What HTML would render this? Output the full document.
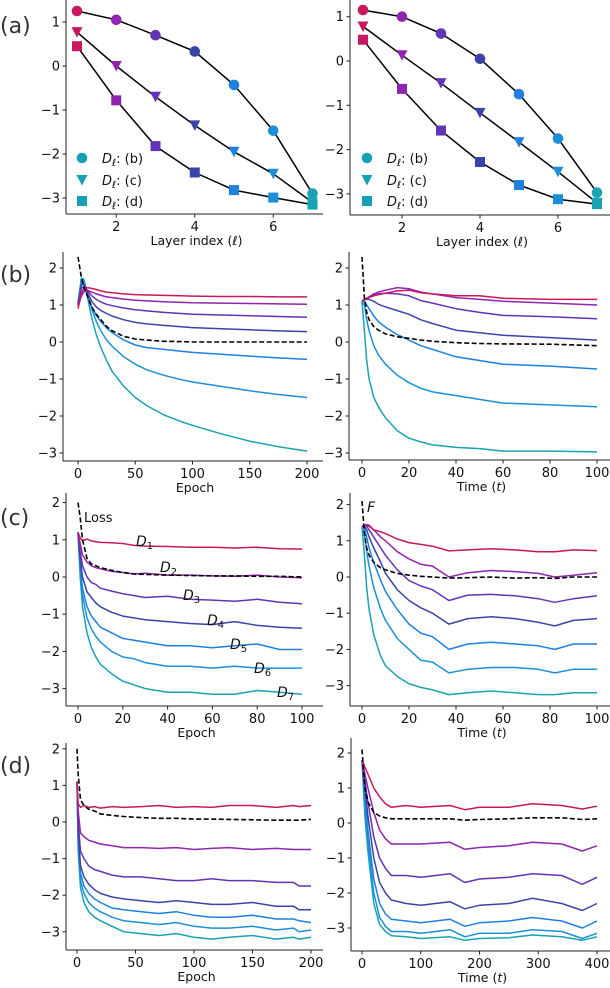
<!DOCTYPE html>
<html><head><meta charset="utf-8">
<style>
html,body{margin:0;padding:0;background:#fff;}
svg{display:block;font-family:"DejaVu Sans","Liberation Sans",sans-serif;}
</style></head>
<body>
<svg id="fig" width="610" height="988" viewBox="0 0 610 988" xmlns="http://www.w3.org/2000/svg"></svg>
<script>
// ---------- data ----------
const layerIdx = [1,2,3,4,5,6,7];
const aLeftB = [1.25,1.05,0.70,0.33,-0.43,-1.47,-2.90];
const aLeftC = [0.77,0.00,-0.70,-1.35,-1.95,-2.45,-3.10];
const aLeftD = [0.45,-0.78,-1.82,-2.42,-2.82,-2.99,-3.15];
const aRightB = [1.15,1.00,0.62,0.05,-0.75,-1.75,-2.97];
const aRightC = [0.78,0.13,-0.50,-1.17,-1.83,-2.50,-3.20];
const aRightD = [0.48,-0.63,-1.57,-2.28,-2.80,-3.12,-3.23];

const bLeftX = [0,3,5,8,12,16,20,25,30,40,50,60,75,90,100,125,150,175,200];
const bLeftLoss = [2.3,1.75,1.5,1.25,0.95,0.75,0.6,0.42,0.3,0.15,0.08,0.05,0.02,0.01,0.0,0.0,0.0,0.0,0.0];
const bLeftD1 = [0.9,1.3,1.45,1.47,1.45,1.42,1.38,1.35,1.33,1.3,1.28,1.27,1.26,1.25,1.24,1.23,1.23,1.22,1.22];
const bLeftD2 = [0.95,1.25,1.35,1.4,1.35,1.3,1.26,1.22,1.2,1.16,1.13,1.11,1.09,1.07,1.06,1.05,1.04,1.03,1.02];
const bLeftD3 = [1.0,1.45,1.5,1.4,1.25,1.15,1.08,1.02,0.98,0.92,0.87,0.84,0.8,0.77,0.75,0.73,0.71,0.69,0.67];
const bLeftD4 = [1.0,1.55,1.55,1.35,1.1,0.95,0.85,0.77,0.7,0.6,0.53,0.49,0.45,0.41,0.39,0.36,0.33,0.3,0.28];
const bLeftD5 = [1.05,1.65,1.6,1.3,0.95,0.72,0.55,0.38,0.25,0.05,-0.08,-0.15,-0.2,-0.25,-0.28,-0.33,-0.38,-0.43,-0.47];
const bLeftD6 = [1.05,1.72,1.7,1.35,0.9,0.55,0.3,0.05,-0.12,-0.4,-0.6,-0.75,-0.9,-1.02,-1.08,-1.2,-1.32,-1.42,-1.5];
const bLeftD7 = [1.05,1.72,1.65,1.25,0.65,0.2,-0.15,-0.5,-0.8,-1.2,-1.5,-1.72,-1.97,-2.15,-2.25,-2.48,-2.68,-2.83,-2.95];

const bRightX = [0,1,2,3,5,7,10,15,20,25,30,40,50,60,80,100];
const bRightLoss = [2.3,1.2,0.8,0.6,0.42,0.32,0.22,0.14,0.1,0.05,0.02,-0.02,-0.04,-0.05,-0.06,-0.1];
const bRightD1 = [1.1,1.15,1.18,1.2,1.25,1.28,1.32,1.38,1.4,1.33,1.3,1.25,1.25,1.18,1.15,1.15];
const bRightD2 = [1.1,1.15,1.18,1.22,1.3,1.35,1.4,1.47,1.44,1.35,1.3,1.2,1.15,1.1,1.05,1.0];
const bRightD3 = [1.1,1.15,1.18,1.22,1.27,1.3,1.32,1.3,1.25,1.12,1.05,0.9,0.8,0.72,0.68,0.63];
const bRightD4 = [1.1,1.15,1.15,1.15,1.1,1.02,0.95,0.85,0.75,0.6,0.5,0.32,0.25,0.18,0.12,0.05];
const bRightD5 = [1.1,1.1,1.0,0.9,0.7,0.55,0.4,0.2,0.05,-0.1,-0.2,-0.4,-0.5,-0.6,-0.65,-0.73];
const bRightD6 = [1.1,1.0,0.6,0.3,-0.1,-0.35,-0.6,-0.9,-1.1,-1.25,-1.35,-1.45,-1.55,-1.65,-1.7,-1.75];
const bRightD7 = [1.1,0.3,-0.5,-1.0,-1.5,-1.75,-2.05,-2.4,-2.6,-2.7,-2.78,-2.85,-2.88,-2.95,-2.95,-2.97];

const cLeftX = [0,1,2,4,6,8,10,15,20,25,30,40,50,60,70,80,90,100];
const cLeftLoss = [2.0,1.6,1.0,0.5,0.35,0.3,0.25,0.18,0.12,0.08,0.07,0.05,0.04,0.03,0.03,0.02,0.02,0.0];
const cLeftD1 = [1.2,1.05,0.98,1.02,0.97,0.95,0.93,0.92,0.9,0.85,0.83,0.82,0.8,0.8,0.78,0.8,0.76,0.75];
const cLeftD2 = [1.2,0.9,0.6,0.4,0.3,0.25,0.22,0.15,0.12,0.08,0.1,0.05,0.05,0.03,0.02,0.05,0.0,-0.02];
const cLeftD3 = [1.2,0.7,0.3,0.0,-0.15,-0.2,-0.3,-0.38,-0.45,-0.5,-0.55,-0.52,-0.6,-0.62,-0.65,-0.6,-0.68,-0.72];
const cLeftD4 = [1.2,0.5,0.0,-0.4,-0.55,-0.7,-0.8,-0.95,-1.05,-1.1,-1.15,-1.2,-1.25,-1.28,-1.2,-1.3,-1.35,-1.38];
const cLeftD5 = [1.2,0.3,-0.3,-0.8,-1.05,-1.2,-1.35,-1.5,-1.65,-1.7,-1.75,-1.85,-1.85,-1.9,-1.85,-1.8,-1.95,-1.95];
const cLeftD6 = [1.2,0.2,-0.5,-1.1,-1.4,-1.6,-1.75,-2.0,-2.15,-2.2,-2.3,-2.4,-2.4,-2.45,-2.4,-2.45,-2.45,-2.45];
const cLeftD7 = [1.2,0.0,-0.8,-1.5,-1.9,-2.15,-2.35,-2.6,-2.8,-2.9,-3.0,-3.1,-3.1,-3.15,-3.15,-3.05,-3.1,-3.15];

const cRightX = [0,1,2,3,5,8,10,15,20,25,30,37,45,55,65,75,82,90,100];
const cRightLoss = [2.1,1.2,0.8,0.6,0.4,0.25,0.2,0.1,0.05,0.02,0.0,-0.03,-0.02,0.0,-0.03,-0.02,-0.04,0.0,0.0];
const cRightD1 = [1.4,1.42,1.42,1.4,1.3,1.25,1.2,1.05,0.95,0.9,0.85,0.72,0.75,0.78,0.75,0.7,0.7,0.75,0.73];
const cRightD2 = [1.4,1.42,1.45,1.43,1.3,1.1,1.0,0.7,0.5,0.35,0.3,0.0,0.12,0.18,0.15,0.1,0.0,0.05,0.12];
const cRightD3 = [1.4,1.42,1.4,1.3,1.1,0.8,0.6,0.2,-0.1,-0.25,-0.35,-0.65,-0.5,-0.48,-0.52,-0.6,-0.7,-0.6,-0.52];
const cRightD4 = [1.4,1.4,1.3,1.1,0.8,0.4,0.1,-0.35,-0.65,-0.85,-1.0,-1.3,-1.15,-1.1,-1.15,-1.25,-1.35,-1.2,-1.15];
const cRightD5 = [1.4,1.35,1.1,0.8,0.4,-0.1,-0.4,-0.9,-1.3,-1.55,-1.65,-2.0,-1.85,-1.8,-1.85,-1.9,-2.0,-1.85,-1.85];
const cRightD6 = [1.4,1.2,0.7,0.3,-0.3,-0.9,-1.2,-1.7,-2.0,-2.3,-2.35,-2.65,-2.55,-2.5,-2.5,-2.55,-2.65,-2.55,-2.55];
const cRightD7 = [1.4,0.6,-0.3,-0.9,-1.6,-2.2,-2.45,-2.75,-2.95,-3.05,-3.12,-3.25,-3.2,-3.15,-3.2,-3.25,-3.25,-3.2,-3.2];

const dLeftX = [0,1,3,6,10,15,20,30,40,55,70,85,100,115,130,150,170,185,190,200];
const dLeftLoss = [2.0,1.3,0.6,0.45,0.35,0.3,0.22,0.18,0.15,0.12,0.1,0.1,0.08,0.08,0.07,0.06,0.05,0.05,0.05,0.07];
const dLeftD1 = [1.1,0.5,0.4,0.45,0.4,0.42,0.38,0.42,0.4,0.42,0.45,0.4,0.42,0.4,0.45,0.45,0.4,0.45,0.42,0.45];
const dLeftD2 = [1.1,0.3,-0.3,-0.4,-0.5,-0.55,-0.6,-0.65,-0.7,-0.7,-0.72,-0.7,-0.75,-0.72,-0.7,-0.75,-0.72,-0.75,-0.75,-0.75];
const dLeftD3 = [1.1,0.0,-0.8,-1.0,-1.2,-1.3,-1.35,-1.45,-1.5,-1.5,-1.55,-1.6,-1.6,-1.55,-1.6,-1.6,-1.65,-1.65,-1.75,-1.75];
const dLeftD4 = [1.1,-0.2,-1.2,-1.5,-1.7,-1.85,-1.95,-2.05,-2.1,-2.15,-2.2,-2.15,-2.2,-2.25,-2.25,-2.2,-2.3,-2.3,-2.4,-2.4];
const dLeftD5 = [1.1,-0.4,-1.4,-1.75,-1.95,-2.1,-2.2,-2.35,-2.4,-2.45,-2.5,-2.45,-2.55,-2.6,-2.6,-2.55,-2.65,-2.65,-2.7,-2.75];
const dLeftD6 = [1.1,-0.6,-1.6,-1.95,-2.2,-2.35,-2.45,-2.6,-2.7,-2.75,-2.8,-2.75,-2.85,-2.9,-2.9,-2.85,-2.95,-2.9,-3.0,-2.95];
const dLeftD7 = [1.1,-0.8,-1.8,-2.2,-2.45,-2.6,-2.7,-2.85,-3.0,-3.05,-3.1,-3.05,-3.15,-3.2,-3.15,-3.1,-3.2,-3.15,-3.2,-3.15];

const dRightX = [0,5,10,20,30,40,50,75,100,150,175,200,250,290,340,375,400];
const dRightLoss = [2.1,1.0,0.6,0.3,0.2,0.15,0.12,0.12,0.12,0.12,0.08,0.1,0.12,0.15,0.15,0.1,0.12];
const dRightD1 = [1.8,1.6,1.4,1.0,0.75,0.55,0.45,0.5,0.45,0.5,0.38,0.45,0.45,0.55,0.5,0.4,0.48];
const dRightD2 = [1.8,1.4,1.0,0.3,-0.2,-0.45,-0.6,-0.6,-0.6,-0.55,-0.75,-0.7,-0.65,-0.55,-0.6,-0.8,-0.65];
const dRightD3 = [1.8,1.2,0.6,-0.4,-1.0,-1.3,-1.5,-1.5,-1.55,-1.45,-1.7,-1.6,-1.55,-1.45,-1.5,-1.75,-1.55];
const dRightD4 = [1.8,1.0,0.2,-1.0,-1.7,-2.0,-2.2,-2.3,-2.35,-2.25,-2.45,-2.35,-2.3,-2.15,-2.3,-2.5,-2.3];
const dRightD5 = [1.8,0.7,-0.2,-1.6,-2.3,-2.6,-2.75,-2.8,-2.85,-2.75,-2.95,-2.85,-2.8,-2.7,-2.8,-3.0,-2.8];
const dRightD6 = [1.8,0.4,-0.5,-2.0,-2.7,-2.95,-3.1,-3.1,-3.15,-3.05,-3.25,-3.15,-3.15,-3.05,-3.1,-3.3,-3.15];
const dRightD7 = [1.8,0.2,-0.8,-2.3,-2.9,-3.1,-3.22,-3.25,-3.3,-3.25,-3.35,-3.3,-3.28,-3.2,-3.25,-3.35,-3.25];

const yTicksA = [1,0,-1,-2,-3];
const yTicksT = [2,1,0,-1,-2,-3];
const xTicksA = [2,4,6];
const xTicksEpoch200 = [0,50,100,150,200];
const xTicks100 = [0,20,40,60,80,100];
const xTicks400 = [0,100,200,300,400];

// ---------- drawing ----------
const COLORS = ['#c8175f','#9124ae','#6333b5','#3a44a8','#1f80e0','#1b90d8','#18a2b2'];
const NS = 'http://www.w3.org/2000/svg';
const svg = document.getElementById('fig');
function mk(tag, attrs, parent){
  const e = document.createElementNS(NS, tag);
  for (const k in attrs) e.setAttribute(k, attrs[k]);
  (parent||svg).appendChild(e);
  return e;
}
function fmt(v){ return v < 0 ? '\u2212' + Math.abs(v) : String(v); }

function makeAxes(name, c){
  const g = mk('g', {});
  
  
  const sx = v => c.xp0 + (v - c.xv0) * c.xs;
  const sy = v => c.yp0 - v * c.ys;
  const spL = mk('line', {x1:c.left, y1:c.top, x2:c.left, y2:c.bottom, stroke:'#222', 'stroke-width':1}, g);
  
  
  const spB = mk('line', {x1:c.left, y1:c.bottom, x2:c.right, y2:c.bottom, stroke:'#222', 'stroke-width':1}, g);
  
  
  c.yticks.forEach(v => {
    const y = sy(v);
    mk('line', {x1:c.left-3.5, y1:y, x2:c.left, y2:y, stroke:'#222', 'stroke-width':1}, g);
    const t = mk('text', {x:c.left-6, y:y+4.5, 'text-anchor':'end', 'font-size':13, fill:'#111'}, g);
    
    
    t.textContent = fmt(v);
  });
  c.xticks.forEach(v => {
    const x = sx(v);
    mk('line', {x1:x, y1:c.bottom, x2:x, y2:c.bottom+3.5, stroke:'#222', 'stroke-width':1}, g);
    const t = mk('text', {x:x, y:c.bottom+17, 'text-anchor':'middle', 'font-size':13, fill:'#111'}, g);
    
    
    t.textContent = fmt(v);
  });
  if (c.xlabel){
    const t = mk('text', {x:(c.left+c.right)/2+2, y:c.bottom+31, 'text-anchor':'middle', 'font-size':12.5, fill:'#111'}, g);
    
    
    t.innerHTML = c.xlabel;
  }
  return {g, sx, sy};
}

function drawLine(ax, xs, ys, color, dashed, name){
  const d = xs.map((x,i) => (i? 'L':'M') + ax.sx(x).toFixed(1) + ',' + ax.sy(ys[i]).toFixed(1)).join(' ');
  const p = mk('path', {d:d, fill:'none', stroke:color, 'stroke-width':dashed?1.6:1.5, 'stroke-linejoin':'round', 'stroke-dasharray':dashed?'5,2.5':'none'}, ax.g);
  
  
}

function drawMarker(ax, x, y, shape, color, name){
  const cx = ax.sx(x), cy = ax.sy(y);
  let e;
  if (shape==='o') e = mk('circle', {cx:cx, cy:cy, r:5.3, fill:color}, ax.g);
  else if (shape==='v') e = mk('polygon', {points:`${cx-5.5},${cy-5} ${cx+5.5},${cy-5} ${cx},${cy+5.5}`, fill:color}, ax.g);
  else e = mk('rect', {x:cx-5, y:cy-5, width:10, height:10, fill:color}, ax.g);
  
  
}

function panelLabel(text, y){
  const t = mk('text', {x:0, y:y, 'font-size':22, fill:'#333'});
  
  
  t.textContent = text;
}

function panelA(name, c, sB, sC, sD, legX){
  const ax = makeAxes(name, c);
  [[sB,'o','b'],[sC,'v','c'],[sD,'s','d']].forEach(([s,shape,lbl]) => {
    drawLine(ax, layerIdx, s, '#000', false, 'line-' + lbl);
    s.forEach((v,i) => drawMarker(ax, layerIdx[i], v, shape, COLORS[i], 'marker-' + lbl + '-layer' + layerIdx[i]));
  });
  const lg = mk('g', {}, ax.g);
  
  
  [['o','b',158],['v','c',180],['s','d',201]].forEach(([shape,lbl,yy]) => {
    const fake = {sx:v=>v, sy:v=>v, g:lg};
    drawMarker(fake, legX, yy, shape, '#17a0b5', 'legend-marker-' + lbl);
    const t = mk('text', {x:legX+20, y:yy+5, 'font-size':13, fill:'#111'}, lg);
    
    
    t.innerHTML = '<tspan font-style="italic">D</tspan><tspan font-style="italic" font-size="10" dy="3">ℓ</tspan><tspan dy="-3">: (' + lbl + ')</tspan>';
  });
}
panelLabel('(a)', 33);
panelA('panel-a-left', {left:66, right:323, top:0, bottom:214, xp0:77, xv0:1, xs:39.25, yp0:66, ys:44, yticks:yTicksA, xticks:xTicksA, xlabel:'Layer index (<tspan font-style="italic">ℓ</tspan>)'}, aLeftB, aLeftC, aLeftD, 82);
panelA('panel-a-right', {left:350, right:610, top:0, bottom:215, xp0:363, xv0:1, xs:39, yp0:61, ys:44.3, yticks:yTicksA, xticks:xTicksA, xlabel:'Layer index (<tspan font-style="italic">ℓ</tspan>)'}, aRightB, aRightC, aRightD, 367);

function timePanel(name, c, xs, loss, ds){
  const ax = makeAxes(name, c);
  for (let i = ds.length-1; i >= 0; i--) drawLine(ax, xs, ds[i], COLORS[i], false, 'series-D' + (i+1));
  drawLine(ax, xs, loss, '#000', true, 'loss-line');
  return ax;
}
const EPOCH = 'Epoch';
const TIME = 'Time (<tspan font-style="italic">t</tspan>)';

panelLabel('(b)', 282);
timePanel('panel-b-left', {left:63, right:323, top:252, bottom:461, xp0:78, xv0:0, xs:1.145, yp0:342, ys:37, yticks:yTicksT, xticks:xTicksEpoch200, xlabel:EPOCH},
  bLeftX, bLeftLoss, [bLeftD1,bLeftD2,bLeftD3,bLeftD4,bLeftD5,bLeftD6,bLeftD7]);
timePanel('panel-b-right', {left:349, right:610, top:252, bottom:460, xp0:362, xv0:0, xs:2.35, yp0:342, ys:37, yticks:yTicksT, xticks:xTicks100, xlabel:TIME},
  bRightX, bRightLoss, [bRightD1,bRightD2,bRightD3,bRightD4,bRightD5,bRightD6,bRightD7]);

panelLabel('(c)', 525);
const cl = timePanel('panel-c-left', {left:66, right:323, top:493, bottom:706, xp0:78, xv0:0, xs:2.24, yp0:577, ys:37.2, yticks:yTicksT, xticks:xTicks100, xlabel:EPOCH},
  cLeftX, cLeftLoss, [cLeftD1,cLeftD2,cLeftD3,cLeftD4,cLeftD5,cLeftD6,cLeftD7]);
const lossT = mk('text', {x:84, y:522, 'font-size':13, fill:'#111'}, cl.g);


lossT.textContent = 'Loss';
[[136,546],[160,572],[183,600],[207,625],[230,649],[254,673],[277,697]].forEach((p,i) => {
  const t = mk('text', {x:p[0], y:p[1], 'font-size':14, fill:'#111'}, cl.g);
  
  
  t.innerHTML = '<tspan font-style="italic">D</tspan><tspan font-size="10" dy="3">' + (i+1) + '</tspan>';
});
const cr = timePanel('panel-c-right', {left:350, right:610, top:493, bottom:706, xp0:362, xv0:0, xs:2.35, yp0:577, ys:36.2, yticks:yTicksT, xticks:xTicks100, xlabel:TIME},
  cRightX, cRightLoss, [cRightD1,cRightD2,cRightD3,cRightD4,cRightD5,cRightD6,cRightD7]);
const fT = mk('text', {x:367, y:512, 'font-size':14, 'font-style':'italic', fill:'#111'}, cr.g);


fT.textContent = 'F';

panelLabel('(d)', 773);
timePanel('panel-d-left', {left:66, right:323, top:743, bottom:950, xp0:77, xv0:0, xs:1.17, yp0:822, ys:36.6, yticks:yTicksT, xticks:xTicksEpoch200, xlabel:EPOCH},
  dLeftX, dLeftLoss, [dLeftD1,dLeftD2,dLeftD3,dLeftD4,dLeftD5,dLeftD6,dLeftD7]);
timePanel('panel-d-right', {left:351, right:610, top:738, bottom:951, xp0:362, xv0:0, xs:0.5875, yp0:823, ys:35, yticks:yTicksT, xticks:xTicks400, xlabel:TIME},
  dRightX, dRightLoss, [dRightD1,dRightD2,dRightD3,dRightD4,dRightD5,dRightD6,dRightD7]);
</script>
</body></html>
